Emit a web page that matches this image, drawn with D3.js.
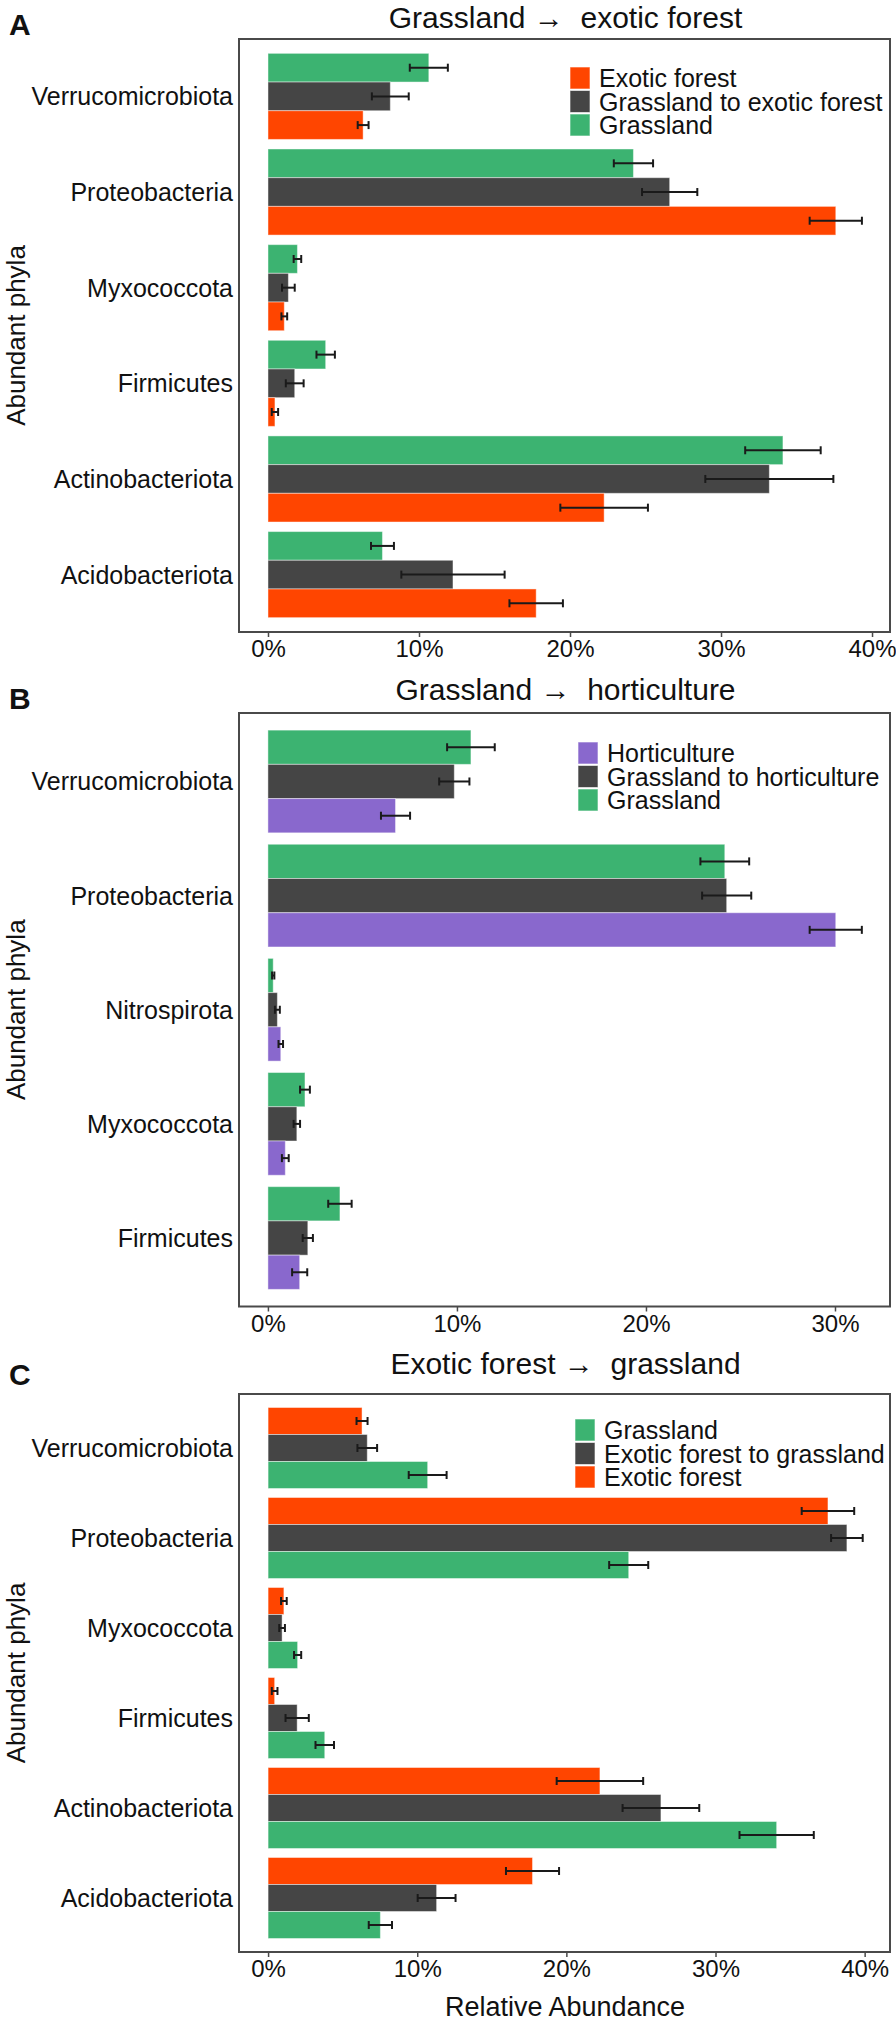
<!DOCTYPE html>
<html>
<head>
<meta charset="utf-8">
<script src="https://cdn.jsdelivr.net/npm/d3@7"></script>
<style>
  html, body { margin: 0; padding: 0; background: #fff; }
  svg text { font-family: "Liberation Sans", Arial, Helvetica, sans-serif; fill: #111; }
</style>
</head>
<body>
<svg id="chart" width="896" height="2024"></svg>
<script>
// ---------------- DATA ----------------
// Panel A: Grassland -> exotic forest
const catsA = ["Verrucomicrobiota", "Proteobacteria", "Myxococcota", "Firmicutes", "Actinobacteriota", "Acidobacteriota"];
const seriesA = ["Grassland", "Grassland to exotic forest", "Exotic forest"];
const grassA = [10.65, 24.2, 1.95, 3.82, 34.1, 7.58];
const grassErrA = [1.26, 1.3, 0.25, 0.61, 2.5, 0.76];
const transA = [8.1, 26.6, 1.35, 1.77, 33.2, 12.25];
const transErrA = [1.22, 1.83, 0.42, 0.59, 4.24, 3.42];
const exoticA = [6.3, 37.6, 1.08, 0.46, 22.26, 17.76];
const exoticErrA = [0.36, 1.73, 0.19, 0.21, 2.9, 1.77];
const legendA = ["Exotic forest", "Grassland to exotic forest", "Grassland"];
const ticksA = [0, 10, 20, 30, 40];

// Panel B: Grassland -> horticulture
const catsB = ["Verrucomicrobiota", "Proteobacteria", "Nitrospirota", "Myxococcota", "Firmicutes"];
const seriesB = ["Grassland", "Grassland to horticulture", "Horticulture"];
const grassB = [10.74, 24.17, 0.28, 1.96, 3.81];
const grassErrB = [1.26, 1.29, 0.06, 0.26, 0.62];
const transB = [9.86, 24.27, 0.5, 1.53, 2.11];
const transErrB = [0.8, 1.3, 0.13, 0.17, 0.27];
const hortB = [6.75, 30.04, 0.68, 0.92, 1.68];
const hortErrB = [0.77, 1.38, 0.12, 0.18, 0.4];
const legendB = ["Horticulture", "Grassland to horticulture", "Grassland"];
const ticksB = [0, 10, 20, 30];

// Panel C: Exotic forest -> grassland
const catsC = ["Verrucomicrobiota", "Proteobacteria", "Myxococcota", "Firmicutes", "Actinobacteriota", "Acidobacteriota"];
const seriesC = ["Exotic forest", "Exotic forest to grassland", "Grassland"];
const exoticC = [6.3, 37.54, 1.06, 0.44, 22.25, 17.73];
const exoticErrC = [0.37, 1.76, 0.19, 0.19, 2.9, 1.78];
const transC = [6.65, 38.81, 0.94, 1.95, 26.34, 11.3];
const transErrC = [0.66, 1.06, 0.19, 0.78, 2.57, 1.27];
const grassC = [10.7, 24.18, 1.98, 3.8, 34.1, 7.53];
const grassErrC = [1.27, 1.31, 0.24, 0.62, 2.49, 0.78];
const legendC = ["Grassland", "Exotic forest to grassland", "Exotic forest"];
const ticksC = [0, 10, 20, 30, 40];

// ---------------- STYLE ----------------
const colorOf = {
  "Grassland": "#3CB371",
  "Exotic forest": "#FF4500",
  "Horticulture": "#8968CD",
  "Grassland to exotic forest": "#454545",
  "Grassland to horticulture": "#454545",
  "Exotic forest to grassland": "#454545"
};

const svg = d3.select("#chart");

function drawPanel(cfg) {
  const g = svg.append("g");
  const left = 239, right = 890;
  const x = d3.scaleLinear().domain(cfg.domain).range([left, right]);
  const y = d3.scaleBand().domain(cfg.cats).range([cfg.top, cfg.bottom])
    .paddingInner(0.1).paddingOuter(0.15);
  const ys = d3.scaleBand().domain(cfg.series).range([0, y.bandwidth()]).padding(0);

  const rows = [];
  cfg.series.forEach((s, si) => {
    cfg.cats.forEach((c, ci) => {
      rows.push({ cat: c, ser: s, v: cfg.values[si][ci], e: cfg.errs[si][ci] });
    });
  });

  // bars
  g.selectAll("rect.bar").data(rows).enter().append("rect")
    .attr("class", "bar")
    .attr("x", x(0))
    .attr("y", d => y(d.cat) + ys(d.ser))
    .attr("width", d => x(d.v) - x(0))
    .attr("height", ys.bandwidth())
    .attr("fill", d => colorOf[d.ser])
    .attr("stroke", "rgba(255,255,255,0.45)")
    .attr("stroke-width", 1);

  // error bars
  const eb = g.selectAll("g.eb").data(rows).enter().append("g").attr("class", "eb")
    .attr("stroke", "#1a1a1a").attr("stroke-width", 2);
  const cy = d => y(d.cat) + ys(d.ser) + ys.bandwidth() / 2;
  const capH = 4;
  eb.append("line")
    .attr("x1", d => x(d.v - d.e)).attr("x2", d => x(d.v + d.e))
    .attr("y1", cy).attr("y2", cy);
  eb.append("line")
    .attr("x1", d => x(d.v - d.e)).attr("x2", d => x(d.v - d.e))
    .attr("y1", d => cy(d) - capH).attr("y2", d => cy(d) + capH);
  eb.append("line")
    .attr("x1", d => x(d.v + d.e)).attr("x2", d => x(d.v + d.e))
    .attr("y1", d => cy(d) - capH).attr("y2", d => cy(d) + capH);

  // panel box
  g.append("rect")
    .attr("x", left).attr("y", cfg.top)
    .attr("width", right - left).attr("height", cfg.bottom - cfg.top)
    .attr("fill", "none").attr("stroke", "#4a4a4a").attr("stroke-width", 2);

  // x axis
  const ax = g.append("g").attr("transform", `translate(0,${cfg.bottom})`)
    .call(d3.axisBottom(x).tickValues(cfg.ticks).tickFormat(d => d + "%").tickSize(5).tickPadding(3));
  ax.select(".domain").remove();
  ax.selectAll(".tick line").attr("stroke", "#4a4a4a").attr("stroke-width", 1.5);
  ax.selectAll(".tick text")
    .attr("font-family", "Liberation Sans, Arial, sans-serif")
    .attr("font-size", 24).attr("fill", "#111");

  // y category labels
  g.selectAll("text.cat").data(cfg.cats).enter().append("text")
    .attr("class", "cat")
    .attr("x", 233)
    .attr("y", d => y(d) + y.bandwidth() / 2)
    .attr("dy", "0.36em")
    .attr("text-anchor", "end")
    .attr("font-size", 25)
    .text(d => d);

  // y axis title
  g.append("text")
    .attr("transform", `translate(25,${(cfg.top + cfg.bottom) / 2}) rotate(-90)`)
    .attr("text-anchor", "middle")
    .attr("font-size", 26)
    .text("Abundant phyla");

  // title
  g.append("text")
    .attr("x", (left + right) / 2 + 1)
    .attr("y", cfg.titleY)
    .attr("text-anchor", "middle")
    .attr("font-size", 30)
    .style("white-space", "pre")
    .text(cfg.title);

  // panel letter
  g.append("text")
    .attr("x", 9).attr("y", cfg.letterY)
    .attr("font-size", 30).attr("font-weight", "bold")
    .text(cfg.letter);

  // legend
  const lg = g.append("g").attr("transform", `translate(${cfg.legX},${cfg.legY})`);
  const pitch = 23.5;
  const item = lg.selectAll("g").data(cfg.legend).enter().append("g")
    .attr("transform", (d, i) => `translate(0,${i * pitch})`);
  item.append("rect")
    .attr("x", 0).attr("y", 0).attr("width", 20).attr("height", 22)
    .attr("fill", d => colorOf[d])
    .attr("stroke", "rgba(255,255,255,0.6)").attr("stroke-width", 1);
  item.append("text")
    .attr("x", 29).attr("y", 11).attr("dy", "0.36em")
    .attr("font-size", 25)
    .text(d => d);
}

drawPanel({
  cats: catsA, series: seriesA,
  values: [grassA, transA, exoticA], errs: [grassErrA, transErrA, exoticErrA],
  legend: legendA, ticks: ticksA,
  domain: [-1.92, 41.19], top: 39, bottom: 632,
  title: "Grassland \u2192  exotic forest", titleY: 27.5, letter: "A", letterY: 35,
  legX: 570, legY: 67
});

drawPanel({
  cats: catsB, series: seriesB,
  values: [grassB, transB, hortB], errs: [grassErrB, transErrB, hortErrB],
  legend: legendB, ticks: ticksB,
  domain: [-1.53, 32.91], top: 713, bottom: 1306.5,
  title: "Grassland \u2192  horticulture", titleY: 700, letter: "B", letterY: 709,
  legX: 578, legY: 742
});

drawPanel({
  cats: catsC, series: seriesC,
  values: [exoticC, transC, grassC], errs: [exoticErrC, transErrC, grassErrC],
  legend: legendC, ticks: ticksC,
  domain: [-1.95, 41.7], top: 1394, bottom: 1952,
  title: "Exotic forest \u2192  grassland", titleY: 1374, letter: "C", letterY: 1385,
  legX: 575, legY: 1419
});

// x axis title (bottom)
svg.append("text")
  .attr("x", 565).attr("y", 2016)
  .attr("text-anchor", "middle")
  .attr("font-size", 27)
  .text("Relative Abundance");
</script>
</body>
</html>
